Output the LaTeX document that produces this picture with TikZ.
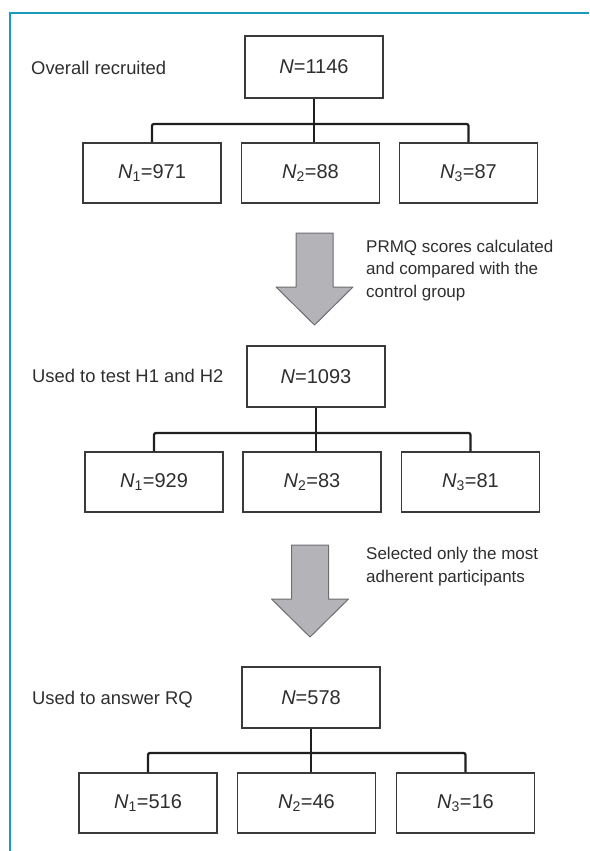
\documentclass[tikz,border=0pt]{standalone}
\usepackage{fontspec}
\setmainfont{Liberation Sans}
\usetikzlibrary{calc}

\definecolor{framecyan}{RGB}{24,155,190}
\definecolor{boxline}{RGB}{58,58,58}
\definecolor{arrowgray}{RGB}{180,180,184}
\definecolor{arrowedge}{RGB}{110,110,114}

\begin{document}
\begin{tikzpicture}[x=1pt,y=-1pt,
countbox/.style={draw=boxline,line width=1.2pt,minimum width=138pt,minimum height=60pt,
  inner sep=0pt,font=\fontsize{20}{24}\selectfont},
grouplabel/.style={anchor=west,inner sep=0pt,font=\fontsize{18.4}{22}\selectfont},
steplabel/.style={anchor=west,inner sep=0pt,align=left,font=\fontsize{17}{22.5}\selectfont},
link/.style={draw=black!88,line width=2.3pt,rounded corners=2pt},
flowarrow/.style={fill=arrowgray,draw=arrowedge,line width=1pt,line join=round},
text=black!82]

  \useasboundingbox (0,0) rectangle (589,851);

  % frame
  \draw[framecyan,line width=1.7pt] (10,851) -- (10,13) -- (589,13);

  % overall recruited
  \node[grouplabel] (lab1) at (31,68) {Overall recruited};
  \node[countbox,minimum height=62pt] (all1) at (314,67) {\textit{N}=1146};
  \node[countbox] (g1a) at (152,173)   {\textit{N}\textsubscript{1}=971};
  \node[countbox] (g1b) at (310.5,173) {\textit{N}\textsubscript{2}=88};
  \node[countbox] (g1c) at (468.5,173) {\textit{N}\textsubscript{3}=87};
  \coordinate (bar1) at (314,124);
  \draw[link] (all1.south) -- (bar1);
  \draw[link] (g1a.north) |- (bar1) -| (g1c.north);
  \draw[link] (bar1) -- (bar1 |- g1b.north);

  % first step
  \coordinate (arr1) at (314.5,233);
  \draw[flowarrow] (arr1) -- ++(18.5,0) -- ++(0,54) -- ++(20,0) -- ($(arr1)+(0,92)$)
    -- ++(-38.5,-38) -- ++(20,0) -- ++(0,-54) -- cycle;
  \node[steplabel] (why1) at (366,270.5) {PRMQ scores calculated\\and compared with the\\control group};

  % used to test H1 and H2
  \node[grouplabel] (lab2) at (32,375.5) {Used to test H1 and H2};
  \node[countbox,minimum height=61pt] (all2) at (316,376.5) {\textit{N}=1093};
  \node[countbox] (g2a) at (154,482)   {\textit{N}\textsubscript{1}=929};
  \node[countbox] (g2b) at (312,482)   {\textit{N}\textsubscript{2}=83};
  \node[countbox] (g2c) at (470.5,482) {\textit{N}\textsubscript{3}=81};
  \coordinate (bar2) at (316,433);
  \draw[link] (all2.south) -- (bar2);
  \draw[link] (g2a.north) |- (bar2) -| (g2c.north);
  \draw[link] (bar2) -- (bar2 |- g2b.north);

  % second step
  \coordinate (arr2) at (310,545);
  \draw[flowarrow] (arr2) -- ++(18.5,0) -- ++(0,54) -- ++(20,0) -- ($(arr2)+(0,92)$)
    -- ++(-38.5,-38) -- ++(20,0) -- ++(0,-54) -- cycle;
  \node[steplabel] (why2) at (366,566.5) {Selected only the most\\adherent participants};

  % used to answer RQ
  \node[grouplabel] (lab3) at (32,700) {Used to answer RQ};
  \node[countbox,minimum height=61pt] (all3) at (311,697.5) {\textit{N}=578};
  \node[countbox] (g3a) at (148,803)   {\textit{N}\textsubscript{1}=516};
  \node[countbox] (g3b) at (306.5,803) {\textit{N}\textsubscript{2}=46};
  \node[countbox] (g3c) at (465.5,803) {\textit{N}\textsubscript{3}=16};
  \coordinate (bar3) at (311,753);
  \draw[link] (all3.south) -- (bar3);
  \draw[link] (g3a.north) |- (bar3) -| (g3c.north);
  \draw[link] (bar3) -- (bar3 |- g3b.north);
\end{tikzpicture}
\end{document}
